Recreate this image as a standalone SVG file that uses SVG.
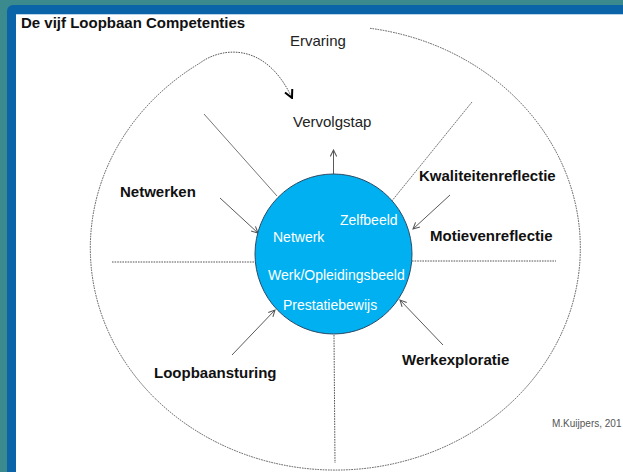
<svg xmlns="http://www.w3.org/2000/svg" width="623" height="472" viewBox="0 0 623 472">
<style>
.lbl{font-family:"Liberation Sans",Arial,sans-serif;font-weight:bold;font-size:15px;fill:#111}
.reg{font-family:"Liberation Sans",Arial,sans-serif;font-size:15px;fill:#222}
.inn{font-family:"Liberation Sans",Arial,sans-serif;font-size:14px;fill:#ffffff}
.dot{fill:none;stroke:#555;stroke-width:1;stroke-dasharray:1.6 1}
.thin{fill:none;stroke:#666;stroke-width:0.9}
.arr{fill:none;stroke:#5a5a5a;stroke-width:1;marker-end:url(#ah)}
</style>
<defs>
<marker id="ah" viewBox="0 0 10 10" refX="9" refY="5" markerWidth="8" markerHeight="8" orient="auto" markerUnits="userSpaceOnUse">
<path d="M1,1 L9,5 L1,9" fill="none" stroke="#555" stroke-width="1.3"/>
</marker>
<marker id="ahb" viewBox="0 0 10 10" refX="9" refY="5" markerWidth="10" markerHeight="10" orient="auto" markerUnits="userSpaceOnUse">
<path d="M1,1 L9,5 L1,9" fill="none" stroke="#000" stroke-width="2"/>
</marker>
</defs>

<g id="frame">
<rect x="0" y="0" width="623" height="472" fill="#3b8b8e"/>
<rect x="7" y="5" width="640" height="480" rx="6" fill="#0b63a8"/>
<rect x="16" y="14" width="620" height="470" fill="#ffffff"/>
<line x1="16" y1="14.5" x2="623" y2="14.5" stroke="#b8d2e6" stroke-width="1"/>
</g>

<g id="title">
<text class="lbl" x="21" y="28">De vijf Loopbaan Competenties</text>
</g>

<g id="connectors">
<path id="ervaring-cycle" class="dot" d="M370,28.3 A245,222 0 1 1 200,63 C220,48 265,40 292,98" marker-end="url(#ahb)"/>
<line class="thin" x1="204" y1="114" x2="277" y2="196"/>
<line class="thin" x1="472" y1="102" x2="391" y2="202" stroke-dasharray="2 0.8"/>
<line class="dot" x1="112" y1="262" x2="255" y2="262"/>
<line class="dot" x1="412" y1="261" x2="556" y2="261"/>
<line class="dot" x1="334" y1="335" x2="335" y2="463"/>
<line class="arr" x1="333.5" y1="174" x2="333.5" y2="150"/>
<line class="arr" x1="220" y1="198" x2="258" y2="233"/>
<line class="arr" x1="450" y1="195" x2="413" y2="229"/>
<line class="arr" x1="232" y1="355" x2="275" y2="310"/>
<line class="arr" x1="443" y1="345" x2="400" y2="300"/>
</g>

<g id="core">
<ellipse cx="333.5" cy="254" rx="78.5" ry="80" fill="#00b0f0" stroke="#2a4a66" stroke-width="1"/>
<text class="inn" x="340" y="225">Zelfbeeld</text>
<text class="inn" x="273" y="242">Netwerk</text>
<text class="inn" x="268" y="280">Werk/Opleidingsbeeld</text>
<text class="inn" x="283" y="310">Prestatiebewijs</text>
</g>

<g id="ervaring"><text class="reg" x="290" y="46">Ervaring</text></g>
<g id="vervolgstap"><text class="reg" x="293" y="127">Vervolgstap</text></g>
<g id="netwerken"><text class="lbl" x="120" y="197">Netwerken</text></g>
<g id="kwaliteitenreflectie"><text class="lbl" x="419" y="181">Kwaliteitenreflectie</text></g>
<g id="motievenreflectie"><text class="lbl" x="430" y="241">Motievenreflectie</text></g>
<g id="loopbaansturing"><text class="lbl" x="154" y="378">Loopbaansturing</text></g>
<g id="werkexploratie"><text class="lbl" x="402" y="365">Werkexploratie</text></g>
<g id="credit"><text x="552" y="427" font-family="'Liberation Sans',Arial,sans-serif" font-size="10" fill="#555">M.Kuijpers, 201</text></g>
</svg>
